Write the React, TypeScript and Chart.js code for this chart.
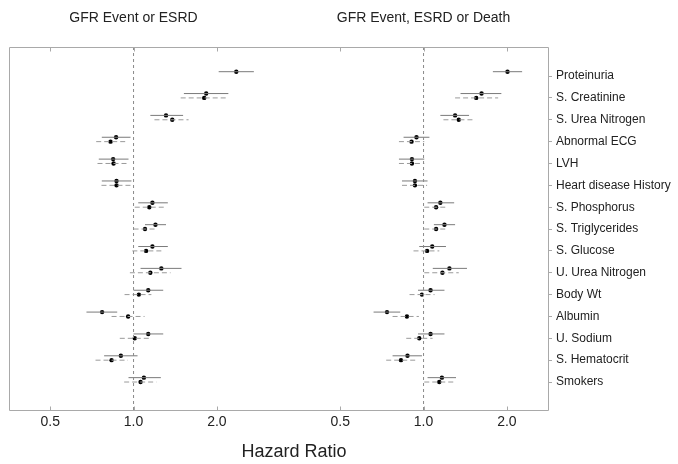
import React, { useEffect, useRef } from 'react';
import { Chart, registerables } from 'chart.js';

Chart.register(...registerables);

const FONT = '"Liberation Sans", Arial, Helvetica, sans-serif';

// Row categories (top to bottom)
const categories = [
  'Proteinuria', 'S. Creatinine', 'S. Urea Nitrogen', 'Abnormal ECG', 'LVH',
  'Heart disease History', 'S. Phosphorus', 'S. Triglycerides', 'S. Glucose',
  'U. Urea Nitrogen', 'Body Wt', 'Albumin', 'U. Sodium', 'S. Hematocrit', 'Smokers',
];

const panelTitles = ['GFR Event or ESRD', 'GFR Event, ESRD or Death'];
const xTicks = [0.5, 1.0, 2.0];
const xLabel = 'Hazard Ratio';

// Panel 1: GFR Event or ESRD — solid series
const p1SolidEst = [2.35, 1.83, 1.31, 0.865, 0.844, 0.868, 1.17, 1.20, 1.17, 1.26, 1.13, 0.77, 1.13, 0.90, 1.09];
const p1SolidLo = [2.03, 1.52, 1.15, 0.768, 0.749, 0.768, 1.04, 1.10, 1.04, 1.06, 1.00, 0.676, 1.00, 0.783, 0.959];
const p1SolidHi = [2.72, 2.20, 1.51, 0.975, 0.959, 0.983, 1.33, 1.31, 1.33, 1.49, 1.28, 0.873, 1.28, 1.034, 1.255];
// Panel 1 — dashed series
const p1DashEst = [null, 1.80, 1.38, 0.826, 0.847, 0.868, 1.14, 1.10, 1.11, 1.15, 1.045, 0.956, 1.01, 0.833, 1.06];
const p1DashLo = [null, 1.48, 1.19, 0.733, 0.741, 0.766, 1.01, 1.00, 0.99, 0.97, 0.928, 0.833, 0.892, 0.729, 0.925];
const p1DashHi = [null, 2.20, 1.58, 0.938, 0.967, 0.986, 1.30, 1.21, 1.27, 1.36, 1.16, 1.096, 1.15, 0.954, 1.21];

// Panel 2: GFR Event, ESRD or Death — solid series
const p2SolidEst = [2.01, 1.62, 1.30, 0.943, 0.908, 0.931, 1.15, 1.19, 1.075, 1.24, 1.06, 0.738, 1.06, 0.875, 1.165];
const p2SolidLo = [1.78, 1.36, 1.15, 0.847, 0.815, 0.836, 1.034, 1.09, 0.965, 1.08, 0.955, 0.66, 0.955, 0.773, 1.034];
const p2SolidHi = [2.27, 1.91, 1.46, 1.05, 1.006, 1.034, 1.29, 1.30, 1.205, 1.435, 1.19, 0.824, 1.19, 0.987, 1.31];
// Panel 2 — dashed series
const p2DashEst = [null, 1.55, 1.34, 0.905, 0.908, 0.931, 1.11, 1.11, 1.03, 1.17, 0.987, 0.871, 0.965, 0.829, 1.14];
const p2DashLo = [null, 1.30, 1.18, 0.815, 0.815, 0.836, 1.006, 1.006, 0.92, 1.006, 0.89, 0.773, 0.866, 0.733, 1.006];
const p2DashHi = [null, 1.86, 1.52, 1.006, 1.006, 1.03, 1.215, 1.215, 1.14, 1.34, 1.096, 0.962, 1.078, 0.936, 1.29];

const X_MIN = 0.355;
const X_MAX = 2.815;
const Y_MIN = -1.33;
const Y_MAX = 15.28;
const SOLID_OFF = -0.2;
const DASH_OFF = 0;

function ciData(est: (number | null)[], lo: (number | null)[], hi: (number | null)[], off: number) {
  const pts: any[] = [];
  est.forEach((e, i) => {
    if (e == null) return;
    pts.push({ x: lo[i], y: i + off }, { x: hi[i], y: i + off }, { x: hi[i], y: null });
  });
  return pts;
}

function estData(est: (number | null)[], off: number) {
  const pts: any[] = [];
  est.forEach((e, i) => {
    if (e == null) return;
    pts.push({ x: e, y: i + off });
  });
  return pts;
}

const framePlugin = {
  id: 'frame',
  afterDraw(chart: any, _args: any, opts: any) {
    const { ctx, chartArea: a, width } = chart;
    ctx.save();
    ctx.strokeStyle = '#a9a9a9';
    ctx.lineWidth = 1;
    const t = Math.round(a.top) + 0.5;
    const b = Math.round(a.bottom) + 0.5;
    ctx.beginPath();
    if (opts.side === 'left') {
      const l = Math.round(a.left) + 0.5;
      ctx.moveTo(width, t); ctx.lineTo(l, t); ctx.lineTo(l, b); ctx.lineTo(width, b);
    } else {
      const r = Math.round(a.right) + 0.5;
      ctx.moveTo(0, t); ctx.lineTo(r, t); ctx.lineTo(r, b); ctx.lineTo(0, b);
    }
    const xs = chart.scales.x;
    xs.ticks.forEach((tk: any) => {
      const px = Math.round(xs.getPixelForValue(tk.value)) + 0.5;
      ctx.moveTo(px, b); ctx.lineTo(px, b - 4);
      ctx.moveTo(px, t); ctx.lineTo(px, t + 4);
    });
    ctx.stroke();
    ctx.restore();
  },
};

function makeConfig(
  title: string,
  side: 'left' | 'right',
  sEst: (number | null)[], sLo: (number | null)[], sHi: (number | null)[],
  dEst: (number | null)[], dLo: (number | null)[], dHi: (number | null)[],
): any {
  const isRight = side === 'right';
  return {
    type: 'scatter',
    data: {
      datasets: [
        {
          label: 'ref',
          data: [{ x: 1, y: Y_MIN }, { x: 1, y: Y_MAX }],
          showLine: true,
          borderColor: '#8a8a8a',
          borderWidth: 1,
          borderDash: [3, 3],
          pointRadius: 0,
        },
        {
          label: 'solid CI',
          data: ciData(sEst, sLo, sHi, SOLID_OFF),
          showLine: true,
          spanGaps: false,
          borderColor: '#7a7a7a',
          borderWidth: 1,
          pointRadius: 0,
        },
        {
          label: 'dashed CI',
          data: ciData(dEst, dLo, dHi, DASH_OFF),
          showLine: true,
          spanGaps: false,
          borderColor: '#9a9a9a',
          borderWidth: 1,
          borderDash: [5, 3],
          pointRadius: 0,
        },
        {
          label: 'solid HR',
          data: estData(sEst, SOLID_OFF),
          pointRadius: 2.2,
          pointBackgroundColor: '#000',
          pointBorderWidth: 0,
          showLine: false,
        },
        {
          label: 'dashed HR',
          data: estData(dEst, DASH_OFF),
          pointRadius: 2.2,
          pointBackgroundColor: '#000',
          pointBorderWidth: 0,
          showLine: false,
        },
      ],
    },
    options: {
      responsive: false,
      animation: false,
      devicePixelRatio: 1,
      layout: {
        padding: isRight
          ? { left: 21, right: 0, top: 0, bottom: 24 }
          : { left: 9, right: 20, top: 0, bottom: 24 },
      },
      plugins: {
        legend: { display: false },
        tooltip: { enabled: false },
        title: {
          display: true,
          text: title,
          fullSize: false,
          color: '#222',
          font: { family: FONT, size: 14, weight: 'normal' },
          padding: { top: 10, bottom: 20.2 },
        },
        frame: { side },
      },
      scales: {
        x: {
          type: 'logarithmic',
          min: X_MIN,
          max: X_MAX,
          afterBuildTicks: (s: any) => { s.ticks = xTicks.map((v) => ({ value: v })); },
          afterFit: (s: any) => { s.height = 30; },
          grid: { display: false, drawTicks: false },
          border: { display: false },
          ticks: {
            autoSkip: false,
            maxRotation: 0,
            padding: 4,
            color: '#222',
            font: { family: FONT, size: 14 },
            callback: (v: any) => Number(v).toFixed(1),
          },
        },
        y: {
          type: 'linear',
          reverse: true,
          min: Y_MIN,
          max: Y_MAX,
          position: 'right',
          display: isRight,
          afterBuildTicks: (s: any) => { s.ticks = categories.map((_, i) => ({ value: i })); },
          afterFit: (s: any) => { if (isRight) s.width = 130; },
          grid: { drawOnChartArea: false, drawTicks: true, tickLength: 4, color: '#a9a9a9' },
          border: { display: false },
          ticks: {
            autoSkip: false,
            padding: 4,
            color: '#222',
            font: { family: FONT, size: 12 },
            callback: (v: any) => categories[v] ?? '',
          },
        },
      },
    },
    plugins: [framePlugin],
  };
}

function Panel(props: { left: number; width: number; cfg: () => any }) {
  const ref = useRef<HTMLCanvasElement | null>(null);
  useEffect(() => {
    if (!ref.current) return;
    const chart = new Chart(ref.current, props.cfg());
    return () => chart.destroy();
  }, []);
  return (
    <canvas
      ref={ref}
      width={props.width}
      height={464}
      style={{ position: 'absolute', left: props.left, top: 0, width: props.width, height: 464 }}
    />
  );
}

export default function App() {
  return (
    <div style={{ position: 'absolute', left: 0, top: 0, width: 678, height: 464, background: '#fff' }}>
      <Panel
        left={0}
        width={278}
        cfg={() => makeConfig(panelTitles[0], 'left', p1SolidEst, p1SolidLo, p1SolidHi, p1DashEst, p1DashLo, p1DashHi)}
      />
      <Panel
        left={278}
        width={400}
        cfg={() => makeConfig(panelTitles[1], 'right', p2SolidEst, p2SolidLo, p2SolidHi, p2DashEst, p2DashLo, p2DashHi)}
      />
      <div
        style={{
          position: 'absolute', left: 234, top: 441, width: 120, textAlign: 'center',
          fontFamily: FONT, fontSize: 18, lineHeight: '20px', color: '#222',
        }}
      >
        {xLabel}
      </div>
    </div>
  );
}
